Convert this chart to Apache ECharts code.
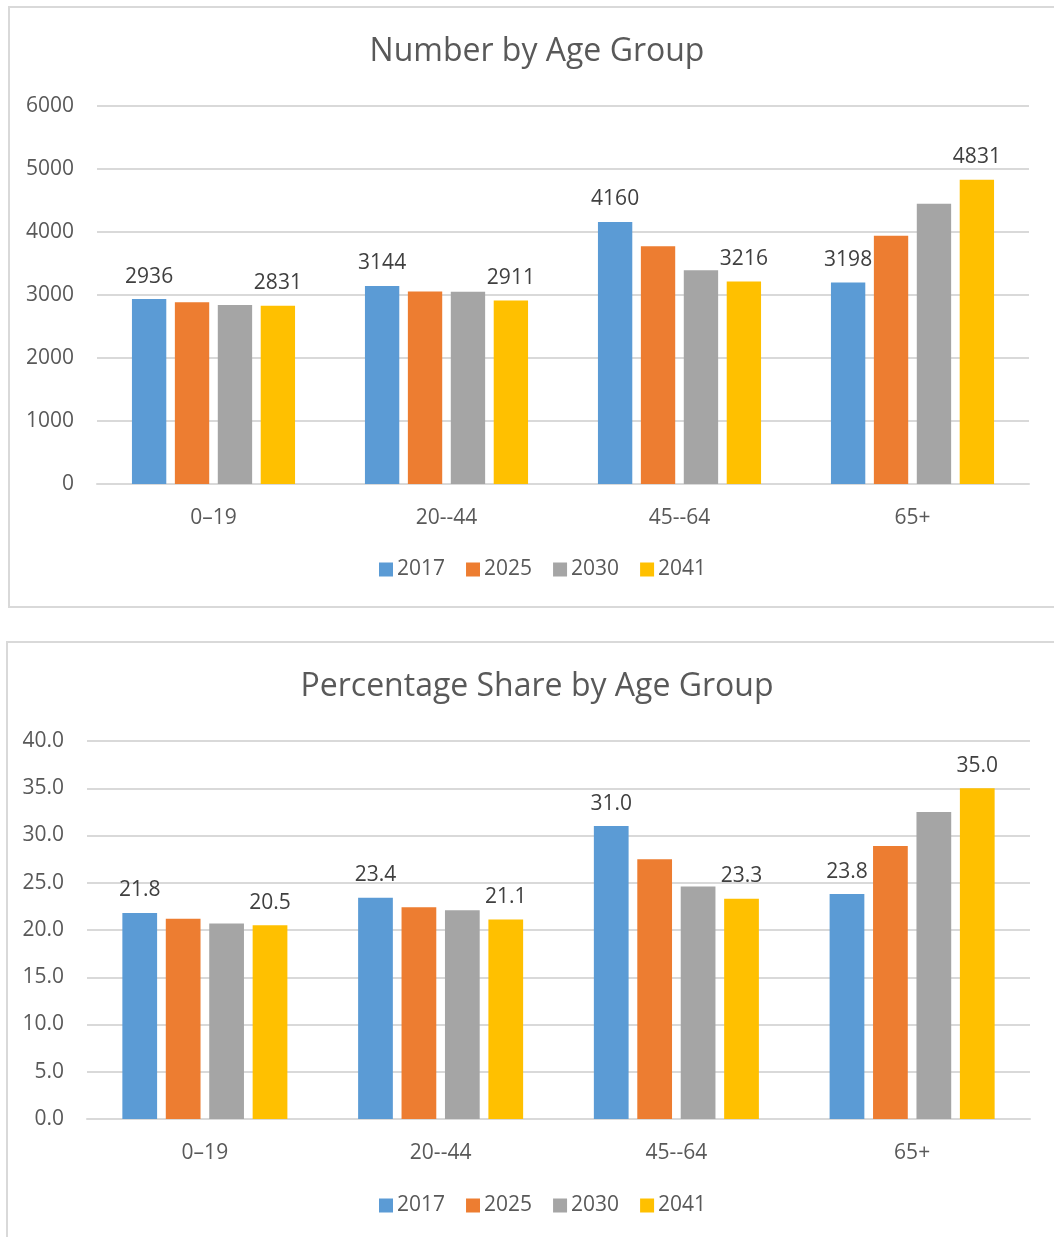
<!DOCTYPE html>
<html>
<head>
<meta charset="utf-8">
<script src="https://cdn.jsdelivr.net/npm/echarts@6/dist/echarts.min.js"></script>
<style>
html, body { margin: 0; padding: 0; background: #fff; }
#main { width: 1054px; height: 1237px; }
</style>
</head>
<body>
<div id="main"></div>
<script>
const categories = ['0\u201319', '20--44', '45--64', '65+'];
const years = ['2017', '2025', '2030', '2041'];
const colors = ['#5b9bd5', '#ed7d31', '#a5a5a5', '#ffc000'];

// number by age group
const num2017 = [2936, 3144, 4160, 3198];
const num2025 = [2884, 3055, 3773, 3941];
const num2030 = [2841, 3050, 3392, 4449];
const num2041 = [2831, 2911, 3216, 4831];
const numTicks = [0, 1000, 2000, 3000, 4000, 5000, 6000];

// percentage share by age group
const pct2017 = [21.8, 23.4, 31.0, 23.8];
const pct2025 = [21.2, 22.4, 27.5, 28.9];
const pct2030 = [20.7, 22.1, 24.6, 32.5];
const pct2041 = [20.5, 21.1, 23.3, 35.0];
const pctTicks = [0, 5, 10, 15, 20, 25, 30, 35, 40];

const FONT = 'Open Sans';
const numSeries = [num2017, num2025, num2030, num2041];
const pctSeries = [pct2017, pct2025, pct2030, pct2041];

const chart = echarts.init(document.getElementById('main'));

function makeSeries(list, idx, fmt) {
  return list.map((d, i) => ({
    name: years[i],
    type: 'bar',
    xAxisIndex: idx,
    yAxisIndex: idx,
    data: d,
    barGap: '25%',
    barCategoryGap: '30%',
    itemStyle: { color: colors[i] },
    label: {
      show: i === 0 || i === 3,
      position: 'top',
      distance: 12,
      color: '#404040',
      fontFamily: FONT,
      fontSize: 21,
      formatter: p => fmt(p.value)
    }
  }));
}

function xAxis(idx) {
  return {
    type: 'category',
    gridIndex: idx,
    data: categories,
    axisTick: { show: false },
    axisLine: { lineStyle: { color: '#d9d9d9', width: 2 } },
    axisLabel: { color: '#595959', fontFamily: FONT, fontSize: 21, margin: 24 }
  };
}

function yAxis(idx, ticks, fmt) {
  return {
    type: 'value',
    gridIndex: idx,
    min: ticks[0],
    max: ticks[ticks.length - 1],
    interval: ticks[1] - ticks[0],
    axisLine: { show: false },
    axisTick: { show: false },
    splitLine: { lineStyle: { color: '#d9d9d9', width: 2 } },
    axisLabel: { color: '#595959', fontFamily: FONT, fontSize: 21, margin: 23, formatter: fmt }
  };
}

const legendBase = {
  data: years,
  icon: 'rect',
  itemWidth: 14,
  itemHeight: 14,
  itemGap: 21,
  left: 374,
  textStyle: { color: '#595959', fontFamily: FONT, fontSize: 21, padding: [0, 0, 0, -1] }
};

const option = {
  animation: false,
  backgroundColor: '#fff',
  graphic: [
    { type: 'rect', shape: { x: 9, y: 7, width: 1060, height: 600 }, style: { fill: 'none', stroke: '#d9d9d9', lineWidth: 2 } },
    { type: 'rect', shape: { x: 7, y: 642, width: 1060, height: 620 }, style: { fill: 'none', stroke: '#d9d9d9', lineWidth: 2 } }
  ],
  title: [
    { text: 'Number by Age Group', left: 532, top: 31, textAlign: 'center',
      textStyle: { color: '#595959', fontFamily: FONT, fontSize: 32, fontWeight: 'normal' } },
    { text: 'Percentage Share by Age Group', left: 532, top: 666, textAlign: 'center',
      textStyle: { color: '#595959', fontFamily: FONT, fontSize: 32, fontWeight: 'normal' } }
  ],
  legend: [
    Object.assign({}, legendBase, { top: 554 }),
    Object.assign({}, legendBase, { top: 1190 })
  ],
  grid: [
    { left: 97, right: 25, top: 106, height: 378 },
    { left: 87, right: 24, top: 741, height: 378 }
  ],
  xAxis: [xAxis(0), xAxis(1)],
  yAxis: [
    yAxis(0, numTicks, v => String(v)),
    yAxis(1, pctTicks, v => v.toFixed(1))
  ],
  series: makeSeries(numSeries, 0, v => String(v))
    .concat(makeSeries(pctSeries, 1, v => v.toFixed(1)))
};

chart.setOption(option);
</script>
</body>
</html>
